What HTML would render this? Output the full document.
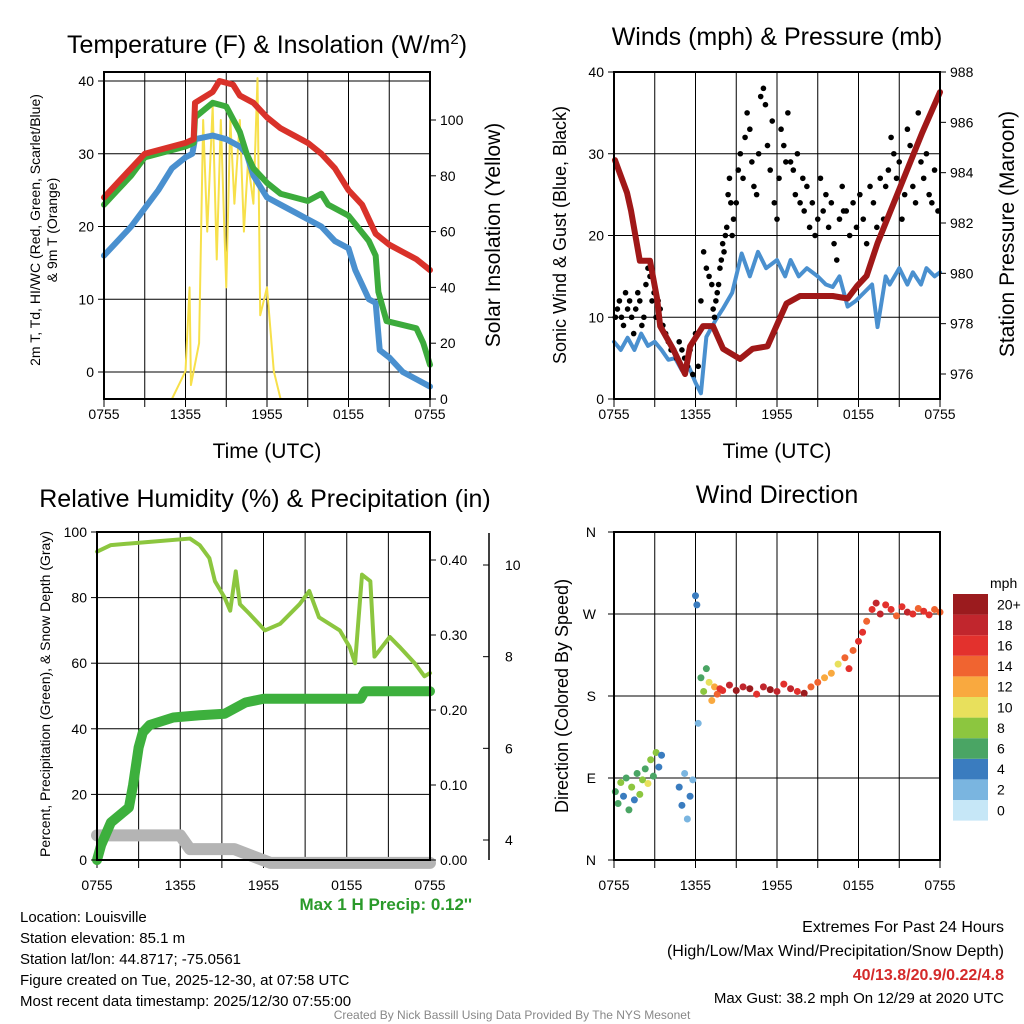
<!DOCTYPE html>
<html><head><meta charset="utf-8">
<style>
html,body{margin:0;padding:0;background:#fff;}
svg{display:block;font-family:"Liberation Sans",Arial,sans-serif;}
</style></head>
<body>
<svg id="chart" width="1024" height="1024" viewBox="0 0 1024 1024">
<rect width="1024" height="1024" fill="#fff"/>
<g id="p1"></g>
<g id="p2"></g>
<g id="p3"></g>
<g id="p4"></g>
<g font-size="15" fill="#000">
<text x="20" y="922">Location: Louisville</text>
<text x="20" y="943">Station elevation: 85.1 m</text>
<text x="20" y="964">Station lat/lon: 44.8717; -75.0561</text>
<text x="20" y="985">Figure created on Tue, 2025-12-30, at 07:58 UTC</text>
<text x="20" y="1006">Most recent data timestamp: 2025/12/30 07:55:00</text>
<text x="1004" y="932" text-anchor="end" font-size="16">Extremes For Past 24 Hours</text>
<text x="1004" y="956" text-anchor="end" font-size="16">(High/Low/Max Wind/Precipitation/Snow Depth)</text>
<text x="1004" y="980" text-anchor="end" font-size="16" font-weight="bold" fill="#d42a2a">40/13.8/20.9/0.22/4.8</text>
<text x="1004" y="1003" text-anchor="end" font-size="15">Max Gust: 38.2 mph On 12/29 at 2020 UTC</text>
<text x="512" y="1019" text-anchor="middle" font-size="12" fill="#888">Created By Nick Bassill Using Data Provided By The NYS Mesonet</text>
<text x="472" y="910" text-anchor="end" font-size="17" font-weight="bold" fill="#2a9a2a">Max 1 H Precip: 0.12''</text>
</g>
</svg>
<script>
// ---- Temperature panel data (hours since 0755) ----
const tempHours=[0,1,2,3,4,5,6,6.6,6.7,8,8.5,9.5,10,11,12,13,14,15,16,17,18,19,20,21,22,23,24];
const tempRed=[24,26,28,30,30.5,31,31.5,32,37,38.5,40,39.5,38,37,35,33.5,32.5,31.5,30,28,25,23,19,17.5,16.5,15.5,14];
const greenHours=[0,1,2,3,4,5,6,6.6,6.7,8,9,10,10.5,11,12,13,14,15,16,16.5,17,18,19.5,20,20.2,20.8,23,23.5,24];
const tempGreen=[23,25,27,29.5,30,30.5,31,31.5,35,37,36.5,33,30,28,26,24.5,24,23.5,24.5,23,22.5,21.5,18,16,11,7,6,4,1];
const blueHours=[0,1,2,3,4,5,6,6.5,6.7,8,9,10,10.5,11,12,13,14,15,16,17,18,18.5,19,19.5,20,20.3,21,22,23,24];
const tempBlue=[16,18,20,22.5,25,28,29.5,30,32,32.5,32,31,30,27,24,23,22,21,20,18,17,14,12,10,9.5,3,2,0,-1,-2];
const solHours=[0,5,5.5,6,6.3,6.4,7,7.3,7.6,8,8.3,8.6,9,9.3,9.6,10,10.3,10.6,11,11.3,11.5,12,12.5,13,24];
const solValues=[0,0,5,10,40,5,20,100,60,105,50,100,40,100,70,100,60,85,70,115,30,40,10,0,0];
const tempTicks=[0,10,20,30,40];
const solTicks=[0,20,40,60,80,100];
const timeLabels=["0755","1355","1955","0155","0755"];
// ---- Winds panel data ----
const windHours=[0,0.5,1,1.5,2,2.5,3,3.5,4,4.5,5,5.5,6,6.4,6.8,7.5,8,8.7,9.4,10,10.6,11.2,12,12.6,13,13.6,14.2,15,15.6,16.1,16.6,17.2,17.8,18.4,19,19.4,20,20.3,21,21.6,22,22.6,23,23.6,24];
const windSpeed=[7,6,7.5,6,8,6.5,7,6,4.8,5,3.5,4,2,0.7,7.6,9.7,11,13,17.8,15,18,16,17,15,17,15,16,15,14,13.7,15,11.3,12,13,14,8.8,15,14,16,14,15.5,14,16,15,15.5];
const presHours=[0.07,0.96,1.25,1.9,2.65,3.17,3.4,4.34,5.23,5.6,6.55,7.29,8.03,9.28,10.2,11.3,12.2,12.7,13.7,16.1,17.2,17.9,18.6,19.4,20.3,21.5,22.7,24];
const pressure=[984.5,983.2,982.5,980.5,980.5,979,977.9,977,976,977.1,977.9,977.9,977,976.6,977,977.1,978.2,978.8,979.1,979.1,979,979.5,979.9,981.2,982.4,984,985.6,987.2];
const gustHours=[0.1,0.25,0.4,0.55,0.7,0.85,1.0,1.15,1.3,1.45,1.6,1.75,1.9,2.05,2.2,2.35,2.5,2.65,2.8,2.95,3.1,3.25,
3.4,3.6,3.8,4.0,4.2,4.4,4.6,4.8,5.0,5.2,5.4,
5.6,5.8,6.0,6.2,6.4,6.6,6.8,7.0,7.2,
7.3,7.4,7.5,7.6,7.7,7.8,7.9,8.0,8.1,8.2,8.3,8.4,8.5,8.6,8.7,8.8,
9.0,9.15,9.3,9.5,9.65,9.8,10.0,10.15,10.3,10.5,10.65,10.8,11.0,11.15,11.3,11.5,11.65,11.8,12.0,12.15,12.3,12.5,12.65,12.8,
13.0,13.2,13.35,13.5,13.7,13.9,14.0,14.2,14.4,14.6,14.8,15.0,15.2,15.4,15.6,15.8,16.0,16.2,16.4,16.6,16.8,16.9,
17.1,17.35,17.6,17.85,18.1,18.35,18.6,18.85,19.1,19.35,19.6,19.85,
20.0,20.2,20.4,20.6,20.8,21.0,21.2,21.4,21.6,21.8,22.0,22.2,22.4,22.6,22.8,23.0,23.2,23.4,23.6,23.85];
const gustValues=[10,11,12,10,9,13,11,12,10,8,11,13,12,9,10,14,16,15,12,13,10,12,
11,9,8,7,6,6,5,7,6,5,4,
6,3,8,4,12,18,16,15,14,
11,10,12,13,14,16,17,19,18,20,21,25,27,24,20,22,
24,28,30,27,32,35,33,29,26,25,30,37,38,36,31,28,34,24,22,27,33,31,29,35,
29,28,25,30,24,27,23,26,21,24,20,22,27,23,25,21,24,19,17,22,26,23,
23,20,24,21,25,22,19,26,24,21,27,22,
26,28,32,30,27,29,22,25,33,31,26,24,35,29,27,30,25,24,28,23];
const windTicks=[0,10,20,30,40];
const presTicks=[976,978,980,982,984,986,988];
// ---- Humidity panel data ----
const rhHours=[0,1,3.8,6.7,7.4,8.1,8.5,9.2,9.6,10,10.3,11,12.1,13.2,14.6,15.3,16,17.5,18.2,18.6,19.1,19.7,20,21.1,21.8,22.9,23.6,24];
const rhValues=[94,96,97,98,96,92,85,80,76,88,78,75,70,72,78,82,74,70,65,60,87,85,62,68,65,60,56,57];
const pcpHours=[0,0.3,1,2.3,2.6,3,3.3,3.8,5.5,7.4,9.2,10.7,12,19,19.3,24];
const pcpValues=[0,0.02,0.05,0.07,0.1,0.15,0.17,0.18,0.19,0.193,0.195,0.21,0.215,0.215,0.225,0.225];
const snowHours=[0,6,6.7,9.9,12.5,24];
const snowValues=[4.1,4.1,3.8,3.8,3.5,3.5];
const rhTicks=[0,20,40,60,80,100];
const pcpTicks=[0,0.1,0.2,0.3,0.4];
const snowTicks=[4,6,8,10];
// ---- Wind direction data ----
const dirHours=[0.1,0.3,0.5,0.7,0.9,1.1,1.3,1.5,1.7,1.9,2.1,2.3,2.5,2.7,2.9,3.1,3.3,3.5,4.8,5,5.2,5.4,5.6,5.8,6,6.1,6.2,6.4,6.6,6.8,7,7.2,7.4,7.6,7.8,8,8.5,9,9.5,10,10.5,11,11.5,12,12.5,13,13.5,14,14.5,15,15.5,16,16.5,17,17.3,17.6,18,18.3,18.6,19,19.3,19.6,20,20.4,20.8,21.2,21.6,22,22.4,22.8,23.2,23.6,24];
const dirValues=[75,62,85,70,90,55,80,66,95,72,88,100,84,110,92,118,102,115,80,60,95,45,70,88,290,280,150,200,185,210,195,175,190,182,188,186,192,186,190,188,182,190,187,185,193,188,185,183,190,195,200,205,215,222,210,230,240,250,262,275,282,270,280,275,268,278,272,270,276,273,269,275,272];
const dirSpeeds=[6,5,7,4,6,5,7,3,6,8,7,5,9,8,6,7,4,3,4,3,2,1,3,2,3,4,1,5,7,6,9,12,11,14,16,15,18,19,17,20,16,18,19,17,15,18,16,19,13,14,12,12,10,13,15,14,16,16,14,15,17,18,16,15,14,16,17,15,14,16,15,13,14];
const scaleColors=["#c6e7f7","#7ab5e0","#3a7cbf","#4aa564","#8cc63f","#e8e05c","#f9a93f","#f06430","#e3312d","#c1262d","#9b1b1e"];
const scaleLabels=["0","2","4","6","8","10","12","14","16","18","20+"];
const dirLabels=["N","E","S","W","N"];

const NS="http://www.w3.org/2000/svg";
function mk(parent,tag,attrs,txt){const e=document.createElementNS(NS,tag);for(const k in attrs)e.setAttribute(k,attrs[k]);if(txt!==undefined)e.textContent=txt;parent.appendChild(e);return e;}
function lin(d0,d1,r0,r1){return v=>r0+(v-d0)*(r1-r0)/(d1-d0);}
function frame(g,x0,x1,y0,y1,yTicks,ys,lblOff){
  for(let i=1;i<8;i++){const x=x0+(x1-x0)*i/8;const l=mk(g,'line',{x1:x,x2:x,y1:y0,y2:y1,stroke:'#000','stroke-width':1});
  }
  for(let i=0;i<=8;i++){const x=x0+(x1-x0)*i/8;mk(g,'line',{x1:x,x2:x,y1:y1,y2:y1+8,stroke:'#000'});}
  yTicks.forEach(t=>{const y=ys(t);const l=mk(g,'line',{x1:x0,x2:x1,y1:y,y2:y,stroke:'#000','stroke-width':1});
  });
  timeLabels.forEach((s,i)=>{const x=x0+(x1-x0)*i/4;const t=mk(g,'text',{x:x,y:y1+lblOff,'text-anchor':'middle','font-size':14},s);
  });
}
function border(g,x0,x1,y0,y1){const r=mk(g,'rect',{x:x0,y:y0,width:x1-x0,height:y1-y0,fill:'none',stroke:'#000','stroke-width':2});
}
function line(g,xs,ys,X,Y,color,w,name){const p=mk(g,'polyline',{points:X.map((h,i)=>xs(h)+','+ys(Y[i])).join(' '),fill:'none',stroke:color,'stroke-width':w,'stroke-linejoin':'round','stroke-linecap':'round'});
return p;}
function yAxis(g,x,ys,ticks,fmt,side,name){ticks.forEach(t=>{const y=ys(t);
  mk(g,'line',{x1:x,x2:x+(side<0?-6:6),y1:y,y2:y,stroke:'#000'});
  const tx=mk(g,'text',{x:x+(side<0?-10:10),y:y+5,'text-anchor':side<0?'end':'start','font-size':14},fmt(t));
  });}
function rotText(g,x,y,s,size,name){const t=mk(g,'text',{x:0,y:0,transform:`translate(${x},${y}) rotate(-90)`,'text-anchor':'middle','font-size':size},s);
return t;}
function title(g,x,y,s,name,size){const t=mk(g,'text',{x:x,y:y,'text-anchor':'middle','font-size':size||25},s);return t;}

// Panel 1
(function(){const g=document.getElementById('p1');const x0=104,x1=430,y0=72,y1=399;
const xs=lin(0,24,x0,x1),ys=lin(0,40,372,81),ys2=lin(0,100,399,120);
frame(g,x0,x1,y0,y1,tempTicks,ys,20);
line(g,xs,ys2,solHours,solValues,'#f7e04a',2,'solar-insolation-line');
line(g,xs,ys,blueHours,tempBlue,'#4a90cf',6,'windchill-line');
line(g,xs,ys,greenHours,tempGreen,'#3cab3c',6,'dewpoint-line');
line(g,xs,ys,tempHours,tempRed,'#d9322a',6,'temperature-line');
border(g,x0,x1,y0,y1);
yAxis(g,x0,ys,tempTicks,String,-1,'temp-tick-label');
yAxis(g,x1,ys2,solTicks,String,1,'solar-tick-label');
const t=title(g,267,53,'Temperature (F) & Insolation (W/m','chart-title-temperature');
mk(t,'tspan',{dy:-9,'font-size':15},'2');mk(t,'tspan',{dy:9},')');
title(g,267,458,'Time (UTC)','x-axis-title',21);
rotText(g,40,230,'2m T, Td, HI/WC (Red, Green, Scarlet/Blue)',14,'y-axis-title-temp');
rotText(g,57,230,'& 9m T (Orange)',14,'y-axis-title-temp-2');
rotText(g,500,235,'Solar Insolation (Yellow)',21,'y-axis-title-solar');})();

// Panel 2
(function(){const g=document.getElementById('p2');const x0=614,x1=940,y0=72,y1=399;
const xs=lin(0,24,x0,x1),ys=lin(0,40,399,72),ys2=lin(976,988,374,72);
frame(g,x0,x1,y0,y1,windTicks,ys,20);
line(g,xs,ys,windHours,windSpeed,'#4a90cf',4,'sustained-wind-line');
gustHours.forEach((h,i)=>{const c=mk(g,'circle',{cx:xs(h),cy:ys(gustValues[i]),r:2.8,fill:'#000'});
});
line(g,xs,ys2,presHours,pressure,'#a01818',6,'pressure-line');
border(g,x0,x1,y0,y1);
yAxis(g,x0,ys,windTicks,String,-1,'wind-tick-label');
yAxis(g,x1,ys2,presTicks,String,1,'pressure-tick-label');
title(g,777,45,'Winds (mph) & Pressure (mb)','chart-title-winds');
title(g,777,458,'Time (UTC)','x-axis-title',21);
rotText(g,566,235,'Sonic Wind & Gust (Blue, Black)',18,'y-axis-title-wind');
rotText(g,1014,234,'Station Pressure (Maroon)',21,'y-axis-title-pressure');})();

// Panel 3
(function(){const g=document.getElementById('p3');const x0=97,x1=430,y0=532,y1=860;
const xs=lin(0,24,x0,x1),ys=lin(0,100,860,532),yp=lin(0,0.4,860,560),ysn=lin(4,10,840,565);
frame(g,x0,x1,y0,y1,rhTicks,ys,30);
line(g,xs,ysn,snowHours,snowValues,'#b4b4b4',12,'snow-depth-line');
line(g,xs,ys,rhHours,rhValues,'#8cc63f',4,'relative-humidity-line');
line(g,xs,yp,pcpHours,pcpValues,'#3db03d',10,'precipitation-line');
border(g,x0,x1,y0,y1);
yAxis(g,x0,ys,rhTicks,String,-1,'rh-tick-label');
yAxis(g,x1,yp,pcpTicks,v=>v.toFixed(2),1,'precip-tick-label');
const ax=mk(g,'line',{x1:489,x2:489,y1:533,y2:860,stroke:'#000','stroke-width':1.5});

snowTicks.forEach(t=>{const y=ysn(t);mk(g,'line',{x1:489,x2:483,y1:y,y2:y,stroke:'#000'});
const tx=mk(g,'text',{x:505,y:y+5,'font-size':14},String(t));});
title(g,265,507,'Relative Humidity (%) & Precipitation (in)','chart-title-humidity');
rotText(g,50,694,'Percent, Precipitation (Green), & Snow Depth (Gray)',14,'y-axis-title-humidity');})();

// Panel 4
(function(){const g=document.getElementById('p4');const x0=614,x1=940,y0=532,y1=860;
const xs=lin(0,24,x0,x1),ys=lin(0,360,860,532);
frame(g,x0,x1,y0,y1,[0,90,180,270,360],ys,30);
dirHours.forEach((h,i)=>{const idx=Math.min(10,Math.max(0,Math.round(dirSpeeds[i]/2)));
const c=mk(g,'circle',{cx:xs(h),cy:ys(dirValues[i]),r:3.5,fill:scaleColors[idx]});
});
border(g,x0,x1,y0,y1);
dirLabels.forEach((s,i)=>{const y=ys(i*90);mk(g,'line',{x1:x0,x2:x0-6,y1:y,y2:y,stroke:'#000'});
const t=mk(g,'text',{x:x0-18,y:y+5,'text-anchor':'end','font-size':14},s);});
title(g,777,503,'Wind Direction','chart-title-direction');
rotText(g,568,696,'Direction (Colored By Speed)',18,'y-axis-title-direction');
const cb=mk(g,'g',{});
const bh=20.6;
for(let i=0;i<11;i++){const y=594+(10-i)*bh;
const r=mk(cb,'rect',{x:953,y:y,width:35,height:bh,fill:scaleColors[i]});
const t=mk(cb,'text',{x:997,y:y+bh/2+5,'font-size':14},scaleLabels[i]);}
const u=mk(cb,'text',{x:990,y:588,'font-size':14},'mph');})();
</script>
</body></html>
